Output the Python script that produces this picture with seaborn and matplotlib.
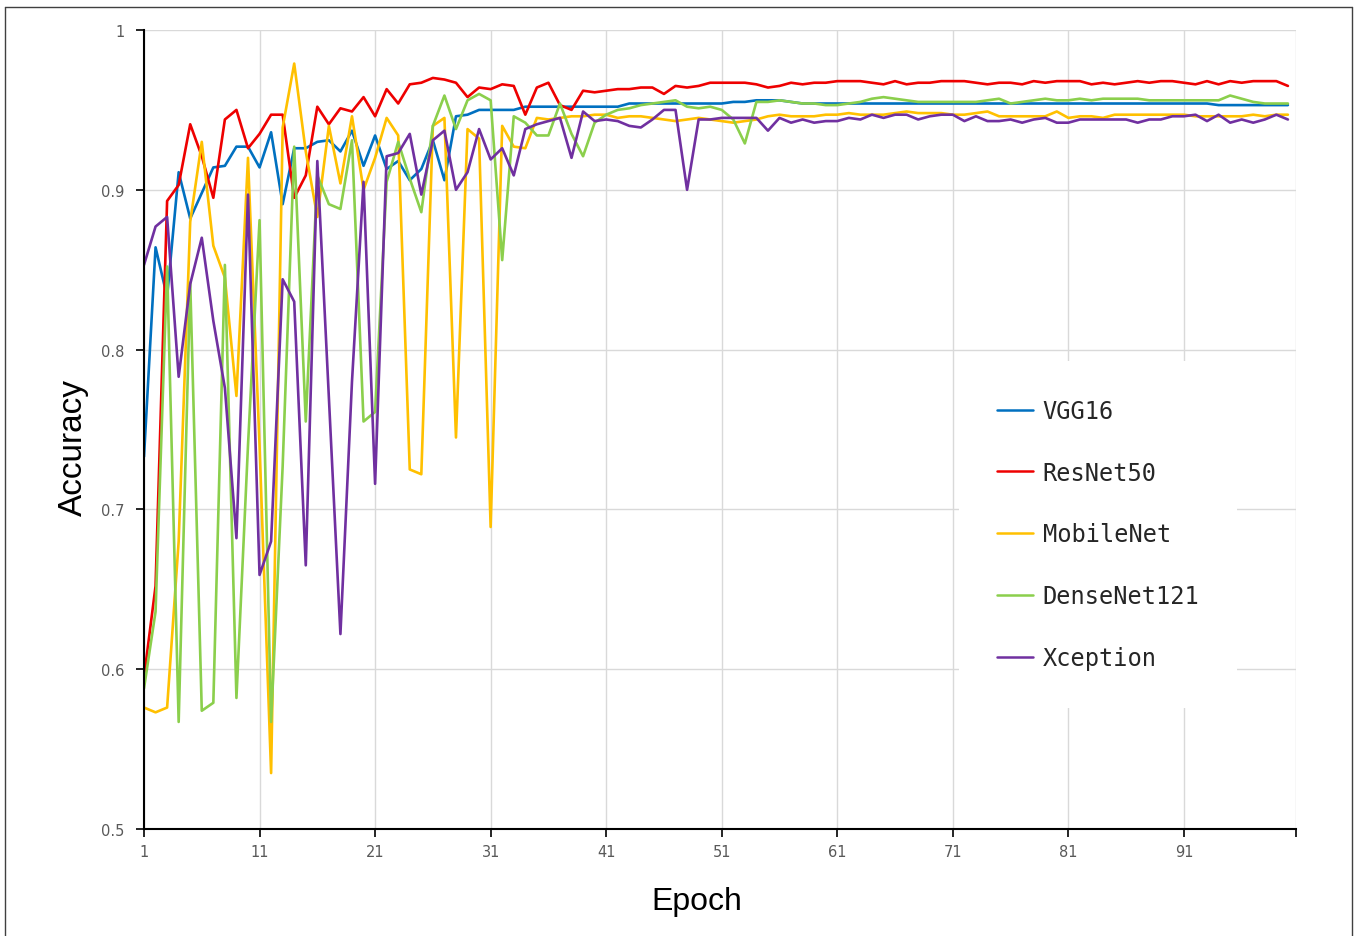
import matplotlib
matplotlib.use("Agg")
import matplotlib.pyplot as plt
from matplotlib import font_manager
from matplotlib.lines import Line2D
import pandas as pd
import seaborn as sns

# accuracy per epoch
epochs = list(range(1, 101))

vgg16 = [
    0.733, 0.864, 0.833, 0.911, 0.882, 0.898, 0.914, 0.915, 0.927, 0.927,
    0.914, 0.936, 0.891, 0.926, 0.926, 0.930, 0.931, 0.924, 0.937, 0.915,
    0.934, 0.913, 0.918, 0.906, 0.913, 0.931, 0.906, 0.946, 0.947, 0.950,
    0.950, 0.950, 0.950, 0.952, 0.952, 0.952, 0.952, 0.952, 0.952, 0.952,
    0.952, 0.952, 0.954, 0.954, 0.954, 0.954, 0.954, 0.954, 0.954, 0.954,
    0.954, 0.955, 0.955, 0.956, 0.956, 0.956, 0.955, 0.954, 0.954, 0.954,
    0.954, 0.954, 0.954, 0.954, 0.954, 0.954, 0.954, 0.954, 0.954, 0.954,
    0.954, 0.954, 0.954, 0.954, 0.954, 0.954, 0.954, 0.954, 0.954, 0.954,
    0.954, 0.954, 0.954, 0.954, 0.954, 0.954, 0.954, 0.954, 0.954, 0.954,
    0.954, 0.954, 0.954, 0.953, 0.953, 0.953, 0.953, 0.953, 0.953, 0.953,
]

resnet50 = [
    0.595, 0.652, 0.893, 0.903, 0.941, 0.921, 0.895, 0.944, 0.950, 0.926,
    0.935, 0.947, 0.947, 0.895, 0.909, 0.952, 0.941, 0.951, 0.949, 0.958,
    0.946, 0.963, 0.954, 0.966, 0.967, 0.970, 0.969, 0.967, 0.958, 0.964,
    0.963, 0.966, 0.965, 0.947, 0.964, 0.967, 0.953, 0.950, 0.962, 0.961,
    0.962, 0.963, 0.963, 0.964, 0.964, 0.960, 0.965, 0.964, 0.965, 0.967,
    0.967, 0.967, 0.967, 0.966, 0.964, 0.965, 0.967, 0.966, 0.967, 0.967,
    0.968, 0.968, 0.968, 0.967, 0.966, 0.968, 0.966, 0.967, 0.967, 0.968,
    0.968, 0.968, 0.967, 0.966, 0.967, 0.967, 0.966, 0.968, 0.967, 0.968,
    0.968, 0.968, 0.966, 0.967, 0.966, 0.967, 0.968, 0.967, 0.968, 0.968,
    0.967, 0.966, 0.968, 0.966, 0.968, 0.967, 0.968, 0.968, 0.968, 0.965,
]

mobilenet = [
    0.576, 0.573, 0.576, 0.680, 0.880, 0.930, 0.865, 0.845, 0.771, 0.920,
    0.740, 0.535, 0.939, 0.979, 0.924, 0.883, 0.940, 0.904, 0.946, 0.900,
    0.920, 0.945, 0.934, 0.725, 0.722, 0.940, 0.945, 0.745, 0.938, 0.932,
    0.689, 0.940, 0.927, 0.926, 0.945, 0.944, 0.945, 0.946, 0.946, 0.947,
    0.947, 0.945, 0.946, 0.946, 0.945, 0.944, 0.943, 0.944, 0.945, 0.944,
    0.943, 0.942, 0.943, 0.944, 0.946, 0.947, 0.946, 0.946, 0.946, 0.947,
    0.947, 0.948, 0.947, 0.947, 0.947, 0.948, 0.949, 0.948, 0.948, 0.948,
    0.947, 0.947, 0.948, 0.949, 0.946, 0.946, 0.946, 0.946, 0.946, 0.949,
    0.945, 0.946, 0.946, 0.945, 0.947, 0.947, 0.947, 0.947, 0.947, 0.947,
    0.947, 0.946, 0.946, 0.946, 0.946, 0.946, 0.947, 0.946, 0.947, 0.947,
]

densenet121 = [
    0.588, 0.636, 0.852, 0.567, 0.842, 0.574, 0.579, 0.853, 0.582, 0.740,
    0.881, 0.567, 0.727, 0.927, 0.755, 0.909, 0.891, 0.888, 0.931, 0.755,
    0.761, 0.905, 0.930, 0.907, 0.886, 0.940, 0.959, 0.938, 0.956, 0.960,
    0.956, 0.856, 0.946, 0.942, 0.934, 0.934, 0.954, 0.935, 0.921, 0.942,
    0.947, 0.950, 0.951, 0.953, 0.954, 0.955, 0.956, 0.952, 0.951, 0.952,
    0.950, 0.944, 0.929, 0.955, 0.955, 0.956, 0.955, 0.954, 0.954, 0.953,
    0.953, 0.954, 0.955, 0.957, 0.958, 0.957, 0.956, 0.955, 0.955, 0.955,
    0.955, 0.955, 0.955, 0.956, 0.957, 0.954, 0.955, 0.956, 0.957, 0.956,
    0.956, 0.957, 0.956, 0.957, 0.957, 0.957, 0.957, 0.956, 0.956, 0.956,
    0.956, 0.956, 0.956, 0.956, 0.959, 0.957, 0.955, 0.954, 0.954, 0.954,
]

xception = [
    0.853, 0.877, 0.883, 0.783, 0.841, 0.870, 0.818, 0.776, 0.682, 0.897,
    0.659, 0.680, 0.844, 0.830, 0.665, 0.918, 0.770, 0.622, 0.780, 0.905,
    0.716, 0.921, 0.923, 0.935, 0.897, 0.931, 0.937, 0.900, 0.911, 0.938,
    0.919, 0.926, 0.909, 0.938, 0.941, 0.943, 0.945, 0.920, 0.949, 0.943,
    0.944, 0.943, 0.940, 0.939, 0.944, 0.950, 0.950, 0.900, 0.944, 0.944,
    0.945, 0.945, 0.945, 0.945, 0.937, 0.945, 0.942, 0.944, 0.942, 0.943,
    0.943, 0.945, 0.944, 0.947, 0.945, 0.947, 0.947, 0.944, 0.946, 0.947,
    0.947, 0.943, 0.946, 0.943, 0.943, 0.944, 0.942, 0.944, 0.945, 0.942,
    0.942, 0.944, 0.944, 0.944, 0.944, 0.944, 0.942, 0.944, 0.944, 0.946,
    0.946, 0.947, 0.943, 0.947, 0.942, 0.944, 0.942, 0.944, 0.947, 0.944,
]

models = ["VGG16", "ResNet50", "MobileNet", "DenseNet121", "Xception"]
colors = ["#0070C0", "#EE0000", "#FFC000", "#8BCF4C", "#7030A0"]

x_ticks = [1, 11, 21, 31, 41, 51, 61, 71, 81, 91]
x_tick_labels = ["1", "11", "21", "31", "41", "51", "61", "71", "81", "91"]
y_ticks = [0.5, 0.6, 0.7, 0.8, 0.9, 1.0]
y_tick_labels = ["0.5", "0.6", "0.7", "0.8", "0.9", "1"]

sns.set_theme(style="white")
installed = {f.name for f in font_manager.fontManager.ttflist}
narrow = "Liberation Sans Narrow" if "Liberation Sans Narrow" in installed else "DejaVu Sans"
plt.rcParams["font.family"] = ["Liberation Sans", "DejaVu Sans"]

df = pd.DataFrame({"Epoch": epochs, "VGG16": vgg16, "ResNet50": resnet50,
                   "MobileNet": mobilenet, "DenseNet121": densenet121,
                   "Xception": xception})
long = df.melt(id_vars="Epoch", var_name="Model", value_name="Accuracy")

fig = plt.figure(figsize=(13.6, 9.37), dpi=100)
ax = fig.add_axes([144 / 1360, 1 - 830 / 937, 1152 / 1360, 799 / 937])

sns.lineplot(data=long, x="Epoch", y="Accuracy", hue="Model", hue_order=models,
             palette=colors, linewidth=1.9, errorbar=None, ax=ax)

x_end = 100.7
ax.set_xlim(1, x_end)
ax.set_ylim(0.5, 1.0)
ax.set_xticks(x_ticks + [x_end])
ax.set_xticklabels(x_tick_labels + [""])
ax.set_yticks(y_ticks)
ax.set_yticklabels(y_tick_labels)

ax.set_axisbelow(True)
ax.grid(True, color="#d9d9d9", linewidth=1)
for s in ["top", "right"]:
    ax.spines[s].set_visible(False)
for s in ["left", "bottom"]:
    ax.spines[s].set_color("black")
    ax.spines[s].set_linewidth(1.5)

ax.tick_params(axis="both", direction="out", length=6, width=1.2, color="black",
               bottom=True, left=True)
ax.tick_params(axis="y", labelsize=10.5, labelcolor="#595959", pad=8)
ax.tick_params(axis="x", labelsize=10.5, labelcolor="#595959", pad=5)
for t in ax.get_yticklabels():
    t.set_family("DejaVu Sans")
for t in ax.get_xticklabels():
    t.set_family(narrow)

ax.set_xlabel("Epoch", fontsize=23, color="black")
ax.set_ylabel("Accuracy", fontsize=24, color="black")
ax.xaxis.set_label_coords(0.48, -0.071)
ax.yaxis.set_label_coords(-0.048, 0.479)

# legend with wide row spacing, white box over the grid
leg = ax.get_legend()
handles = leg.legend_handles
leg.remove()
for h in handles:
    h.set_linewidth(1.8)
ax.legend(handles, models, loc="upper left",
          bbox_to_anchor=(959 / 1360, 1 - 362 / 937), bbox_transform=fig.transFigure,
          frameon=True, facecolor="white", edgecolor="none", framealpha=1,
          fancybox=False, prop={"family": ["DejaVu Sans Mono", "Liberation Mono"], "size": 17},
          handlelength=1.55, handletextpad=0.4, labelspacing=1.6,
          borderpad=1.6, borderaxespad=0)

# thin frame round the picture
frame_kw = dict(transform=fig.transFigure, color="#404040", linewidth=1)
fig.add_artist(Line2D([5 / 1360, 5 / 1360], [0, 1 - 8 / 937], **frame_kw))
fig.add_artist(Line2D([5 / 1360, 1352 / 1360], [1 - 8 / 937, 1 - 8 / 937], **frame_kw))
fig.add_artist(Line2D([1352 / 1360, 1352 / 1360], [0, 1 - 8 / 937], **frame_kw))

fig.savefig("out.png", dpi=100)
